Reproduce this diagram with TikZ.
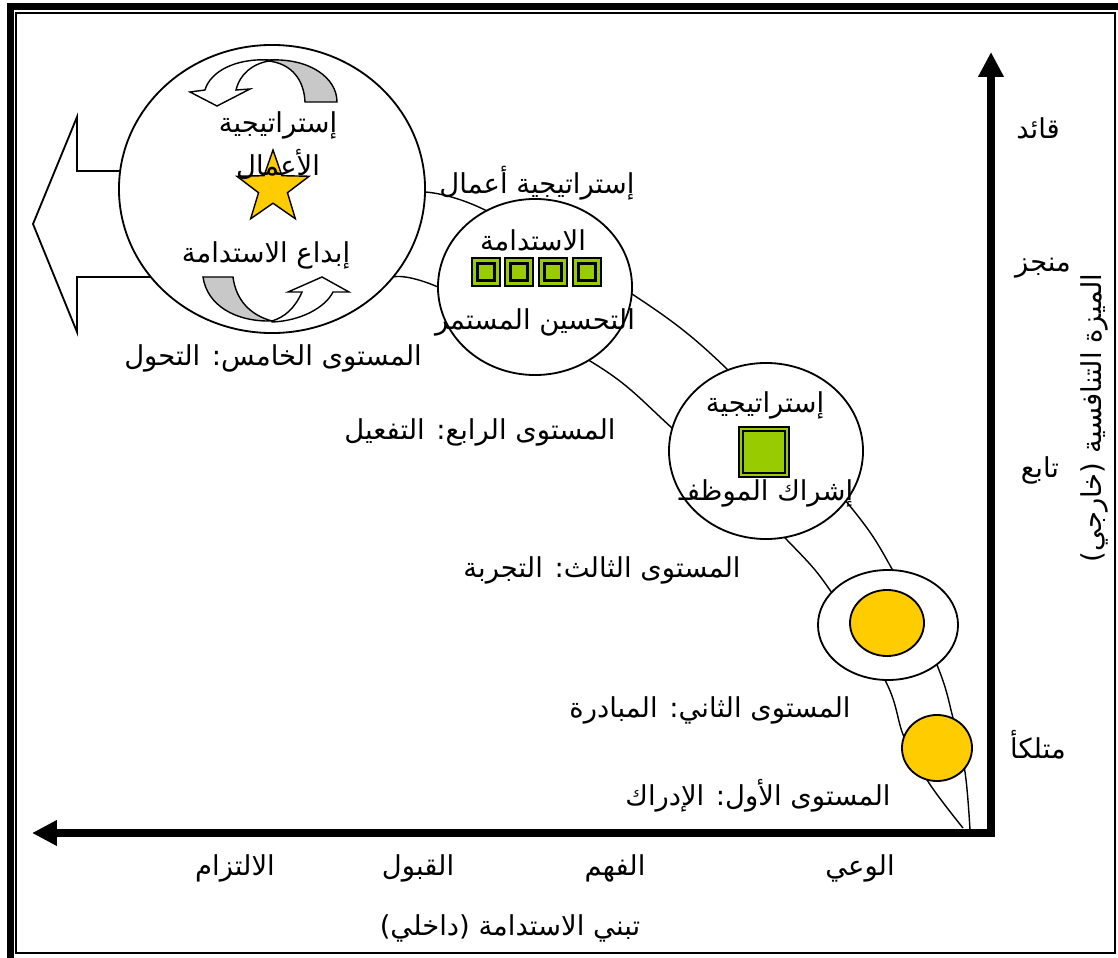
\documentclass[tikz,border=0pt]{standalone}
\usepackage{fontspec}
\usepackage{xcolor}
\usetikzlibrary{shapes.geometric}
\usetikzlibrary{arrows.meta}
\TeXXeTstate=1
\newfontfamily\arabicfont[Script=Arabic]{DejaVu Sans}
\newcommand{\rtltext}[1]{\beginR #1\endR}
\definecolor{leafgreen}{HTML}{99CC00}
\definecolor{sunyellow}{HTML}{FFCC00}
\definecolor{backgray}{HTML}{C8C8C8}
\tikzset{%
    level/.style={shape=ellipse,draw,line width=1.3pt,fill=white,inner sep=0pt},
    artxt/.style={font=\arabicfont\fontsize{19.5}{22}\selectfont,inner sep=0pt},
    sqout/.style={draw,line width=1.5pt,fill=leafgreen,minimum size=#1,inner sep=0pt},
    sqin/.style={draw,line width=1.8pt,fill=leafgreen,minimum size=#1,inner sep=0pt},
    band/.style={line width=1pt},
    axis/.style={line width=5.5pt,{Triangle[length=0.62cm,width=0.6cm]}-{Triangle[length=0.62cm,width=0.6cm]}},
}

\begin{document}
\begin{tikzpicture}[x=0.025cm,y=-0.025cm]
    \useasboundingbox (0,0) rectangle (1118,958);
    \fill (7,3) rectangle (14,958);
    \fill (7,3) rectangle (1118,10);
    \draw[line width=2pt] (16,13) rectangle (1115,953);

    \draw[band] plot[smooth,tension=0.6] coordinates {(970,830) (965,772) (953,718) (937,665) (892,569) (845,500) (728,370) (632,294) (485,210) (425,192)};
    \draw[band] plot[smooth,tension=0.6] coordinates {(963,828) (929,783) (904,737) (886,682) (832,593) (787,540) (672,428) (590,361) (438,287) (393,277)};

    \draw[line width=1.3pt,fill=white] (250,171) -- (77,171) -- (77,117) -- (33,224) -- (77,332) -- (77,277) -- (250,277);

    \node[level,minimum width=7.65cm,minimum height=7.2cm] (lvlfive) at (272,189) {};
    \node[level,minimum width=4.85cm,minimum height=4.4cm] (lvlfour) at (535,287) {};
    \node[level,minimum width=4.85cm,minimum height=4.4cm] (lvlthree) at (766,451) {};
    \node[level,minimum width=3.5cm,minimum height=2.75cm] (lvltwo) at (888,625) {};
    \node[level,fill=sunyellow,minimum width=1.85cm,minimum height=1.65cm] (coretwo) at (887,623) {};
    \node[level,fill=sunyellow,minimum width=1.75cm,minimum height=1.65cm] (lvlone) at (937,748) {};

    \draw[fill=backgray,line width=1pt] (269,60) .. controls (310,58) and (337,78) .. (337,102) -- (305,102) .. controls (304,80) and (292,64) .. (269,61) -- cycle;
    \draw[fill=white,line width=1pt] (269,60) .. controls (235,58) and (210,72) .. (205,90) -- (190,92) -- (217,106) -- (250,89) -- (236,90) .. controls (240,74) and (252,64) .. (269,61) -- cycle;
    \draw[fill=backgray,line width=1pt] (203,277) -- (233,277) .. controls (236,300) and (250,315) .. (272,321) .. controls (235,322) and (207,305) .. (203,277) -- cycle;
    \draw[fill=white,line width=1pt] (272,322) .. controls (300,321) and (325,308) .. (333,292) -- (349,292) -- (322,277) -- (288,292) -- (302,292) .. controls (295,308) and (285,317) .. (272,321) -- cycle;

    \node[star,star points=5,star point ratio=2.5,draw,fill=sunyellow,line width=1pt,minimum size=1.9cm,inner sep=0pt] (bigstar) at (273,188) {};

    \foreach \sx [count=\i] in {486,519,553,587} {
        \node[sqout=0.72cm] (sq\i) at (\sx,272) {};
        \node[sqin=0.42cm] at (sq\i) {};
    }
    \node[sqout=1.25cm] (bigsq) at (764,452) {};
    \node[sqin=1.05cm] at (bigsq) {};

    \draw[axis] (32,833) -- (991,833) -- (991,52);

    \node[artxt] (fiveA) at (278,125) {\rtltext{إستراتيجية}};
    \node[artxt] (fiveB) at (278,165) {\rtltext{الأعمال}};
    \node[artxt] (fiveC) at (266,255) {\rtltext{إبداع الاستدامة}};
    \node[artxt] (fiveL) at (273,358) {\rtltext{المستوى الخامس: التحول}};
    \node[artxt] (fourT) at (537,183) {\rtltext{إستراتيجية أعمال}};
    \node[artxt] (fourA) at (533,240) {\rtltext{الاستدامة}};
    \node[artxt] (fourB) at (535,322) {\rtltext{التحسين المستمر}};
    \node[artxt] (fourL) at (480,432) {\rtltext{المستوى الرابع: التفعيل}};
    \node[artxt] (threeA) at (765,405) {\rtltext{إستراتيجية}};
    \node[artxt] (threeB) at (766,493) {\rtltext{إشراك الموظفـ}};
    \node[artxt] (threeL) at (602,570) {\rtltext{المستوى الثالث: التجربة}};
    \node[artxt] (twoL) at (710,710) {\rtltext{المستوى الثاني: المبادرة}};
    \node[artxt] (oneL) at (758,796) {\rtltext{المستوى الأول: الإدراك}};

    \node[artxt] (xA) at (860,868) {\rtltext{الوعي}};
    \node[artxt] (xB) at (615,868) {\rtltext{الفهم}};
    \node[artxt] (xC) at (418,868) {\rtltext{القبول}};
    \node[artxt] (xD) at (235,868) {\rtltext{الالتزام}};
    \node[artxt] (xlabel) at (510,928) {\rtltext{تبني الاستدامة (داخلي)}};

    \node[artxt] (yA) at (1038,128) {\rtltext{قائد}};
    \node[artxt] (yB) at (1043,268) {\rtltext{منجز}};
    \node[artxt] (yC) at (1040,470) {\rtltext{تابع}};
    \node[artxt] (yD) at (1038,745) {\rtltext{متلكأ}};
    \node[artxt,rotate=90] (ylabel) at (1094,418) {\rtltext{الميزة التنافسية (خارجي)}};
\end{tikzpicture}
\end{document}
